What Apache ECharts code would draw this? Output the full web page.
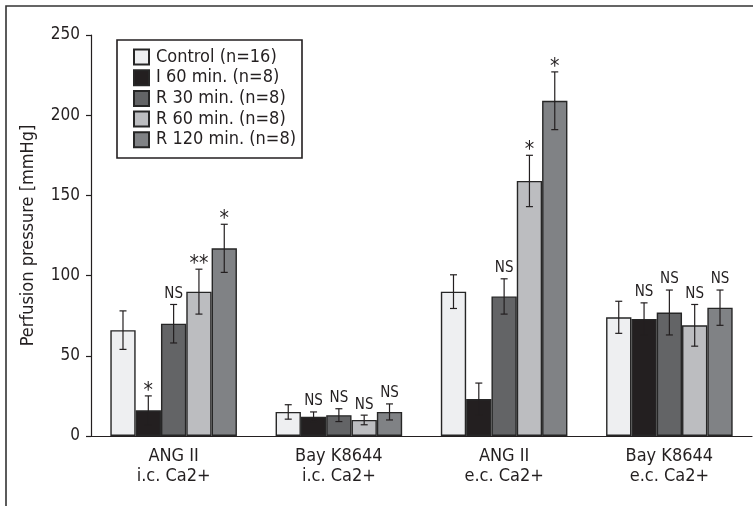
<!DOCTYPE html>
<html>
<head>
<meta charset="utf-8">
<script src="https://cdn.jsdelivr.net/npm/echarts@6/dist/echarts.min.js"></script>
<style>
  html, body { margin: 0; padding: 0; background: #fff; }
  #chart { width: 753px; height: 506px; }
</style>
</head>
<body>
<div id="chart"></div>
<script>
// Perfusion pressure by protocol and stimulus
const categories = ['ANG II\ni.c. Ca2+', 'Bay K8644\ni.c. Ca2+', 'ANG II\ne.c. Ca2+', 'Bay K8644\ne.c. Ca2+'];
const seriesNames = ['Control (n=16)', 'I 60 min. (n=8)', 'R 30 min. (n=8)', 'R 60 min. (n=8)', 'R 120 min. (n=8)'];

// mean values [mmHg]
const controlValues = [66, 15, 90, 74];
const i60Values     = [16, 12, 23, 73];
const r30Values     = [70, 13, 87, 77];
const r60Values     = [90, 10, 159, 69];
const r120Values    = [117, 15, 209, 80];

// error bar half-lengths [mmHg]
const controlErr = [12, 4.5, 10.5, 10];
const i60Err     = [9, 3, 10, 10];
const r30Err     = [12, 4, 11, 14];
const r60Err     = [14, 3, 16, 13];
const r120Err    = [15, 5, 18, 11];

// significance marks
const controlMarks = ['', '', '', ''];
const i60Marks     = ['*', 'NS', '', 'NS'];
const r30Marks     = ['NS', 'NS', 'NS', 'NS'];
const r60Marks     = ['**', 'NS', '*', 'NS'];
const r120Marks    = ['*', 'NS', '*', 'NS'];

const yTicks = [0, 50, 100, 150, 200, 250];

const allValues = [controlValues, i60Values, r30Values, r60Values, r120Values];
const allErr = [controlErr, i60Err, r30Err, r60Err, r120Err];
const allMarks = [controlMarks, i60Marks, r30Marks, r60Marks, r120Marks];
const colors = ['#eeeff1', '#231f20', '#636466', '#bcbdc0', '#808285'];

const FONT = '"Liberation Sans Narrow", "DejaVu Sans Condensed", "Roboto Condensed", "Noto Sans", sans-serif';
const INK = '#231f20';
const CAT_GAP = 0.234;
const N = seriesNames.length;

const series = [];
allValues.forEach((vals, s) => {
  series.push({
    name: seriesNames[s],
    type: 'bar',
    data: vals,
    barGap: '0%',
    barCategoryGap: (CAT_GAP * 100) + '%',
    itemStyle: { color: colors[s], borderColor: '#262626', borderWidth: 1.4 },
    z: 2
  });
});

allValues.forEach((vals, s) => {
  const errs = allErr[s];
  const marks = allMarks[s];
  series.push({
    type: 'custom',
    name: seriesNames[s] + ' error',
    z: 5,
    silent: true,
    data: vals.map((v, i) => [i, v, v + errs[i], v - errs[i]]),
    encode: { x: 0, y: [1, 2, 3] },
    renderItem: function (params, api) {
      const idx = api.value(0);
      const band = api.size([1, 0])[0];
      const groupW = band * (1 - CAT_GAP);
      const bw = groupW / N;
      const cx = api.coord([idx, 0])[0] - groupW / 2 + bw * (s + 0.5);
      const yHi = api.coord([idx, api.value(2)])[1];
      const yLo = api.coord([idx, api.value(3)])[1];
      const cap = 3.5;
      const st = { stroke: INK, lineWidth: 1.2 };
      const children = [
        { type: 'line', shape: { x1: cx, y1: yHi, x2: cx, y2: yLo }, style: st },
        { type: 'line', shape: { x1: cx - cap, y1: yHi, x2: cx + cap, y2: yHi }, style: st },
        { type: 'line', shape: { x1: cx - cap, y1: yLo, x2: cx + cap, y2: yLo }, style: st }
      ];
      const mark = marks[params.dataIndex];
      if (mark) {
        const star = mark.indexOf('*') >= 0;
        children.push({
          type: 'text',
          style: {
            text: mark,
            x: cx,
            y: star ? yHi + 6 : yHi - 3,
            align: 'center',
            verticalAlign: 'bottom',
            font: (star ? '21px ' : '15px ') + FONT,
            fill: INK
          }
        });
      }
      return { type: 'group', children: children };
    }
  });
});

const chart = echarts.init(document.getElementById('chart'));
chart.setOption({
  animation: false,
  backgroundColor: '#fff',
  textStyle: { fontFamily: FONT, color: INK },
  grid: { left: 91, right: 1, top: 35, bottom: 70 },
  legend: {
    data: seriesNames,
    orient: 'vertical',
    left: 133,
    top: 48,
    padding: 0,
    itemWidth: 15,
    itemHeight: 15,
    itemGap: 2.7,
    icon: 'rect',
    textStyle: { fontFamily: FONT, fontSize: 18, color: INK, padding: [0, 0, 0, 2] }
  },
  xAxis: {
    type: 'category',
    data: categories,
    axisLine: { lineStyle: { color: INK, width: 1.2 } },
    axisTick: { length: 5, lineStyle: { color: INK, width: 1.2 } },
    axisLabel: { fontFamily: FONT, fontSize: 18, lineHeight: 20, color: INK, margin: 10 }
  },
  yAxis: {
    type: 'value',
    min: yTicks[0],
    max: yTicks[yTicks.length - 1],
    interval: yTicks[1] - yTicks[0],
    name: 'Perfusion pressure [mmHg]',
    nameLocation: 'middle',
    nameGap: 54,
    nameTextStyle: { fontFamily: FONT, fontSize: 18, color: INK },
    axisLine: { show: true, lineStyle: { color: INK, width: 1.2 } },
    axisTick: { show: true, length: 5, lineStyle: { color: INK, width: 1.2 } },
    axisLabel: { fontFamily: FONT, fontSize: 17, color: INK, margin: 11 },
    splitLine: { show: false }
  },
  graphic: [
    {
      type: 'rect',
      silent: true,
      shape: { x: 6, y: 6, width: 900, height: 700 },
      style: { fill: 'none', stroke: '#333', lineWidth: 1.6 },
      z: 0
    },
    {
      type: 'rect',
      silent: true,
      shape: { x: 117, y: 40, width: 185, height: 118 },
      style: { fill: 'none', stroke: INK, lineWidth: 1.6 },
      z: 10
    }
  ],
  series: series
});
</script>
</body>
</html>
